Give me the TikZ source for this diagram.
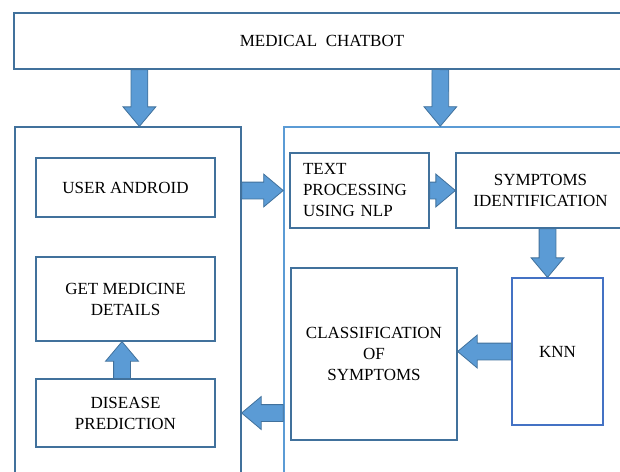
\documentclass[tikz,border=0pt]{standalone}
\usepackage{fontspec}
\setmainfont{Liberation Serif}
\usetikzlibrary{shapes.arrows,calc}

\definecolor{boxline}{HTML}{41719C}
\definecolor{arrowfill}{HTML}{5B9BD5}
\definecolor{outerline}{HTML}{5B9BD5}
\definecolor{knnline}{HTML}{4472C4}

\tikzset{
  block/.style={draw=boxline,line width=1.2pt,align=center,inner sep=0pt,
    font=\fontsize{17}{21}\selectfont},
  fatarrow/.style={single arrow,draw=boxline,fill=arrowfill,line width=0.8pt,
    inner xsep=0pt,inner ysep=8pt,outer sep=0pt,single arrow head extend=8pt,
    single arrow tip angle=80},
}

% block arrow from #1 to #2
\newcommand{\fatarrow}[2]{%
  \path let \p1=(#1), \p2=(#2),
    \n1={atan2(\y2-\y1,\x2-\x1)}, \n2={veclen(\x2-\x1,\y2-\y1)} in
    node [fatarrow,minimum height=\n2,rotate=\n1,anchor=tail] at (\p1) {};}

\begin{document}
\begin{tikzpicture}[x=1pt,y=-1pt]
  \useasboundingbox (0,0) rectangle (620,471);
  \clip (0,0) rectangle (620,471);
  \node (chatbot) at (322,41) [block,minimum width=616,minimum height=56] {MEDICAL\ \ CHATBOT};
  \node (leftbox) at (128,313.5) [block,minimum width=226,minimum height=373] {};
  \node (rightbox) at (462,313.5) [block,draw=outerline,line width=1.5pt,minimum width=356,minimum height=373] {};
  \node (android) at (125.5,187.5) [block,minimum width=179,minimum height=59] {USER ANDROID};
  \node (medicine) at (125.5,299) [block,minimum width=179,minimum height=84] {GET MEDICINE\\DETAILS};
  \node (disease) at (125.5,413) [block,minimum width=179,minimum height=68] {DISEASE\\PREDICTION};
  \node (textproc) at (359.5,190.5) [block,align=left,text width=113,minimum height=75,inner xsep=13] {TEXT\\PROCESSING\\USING NLP};
  \node (symptid) at (540.5,190.5) [block,minimum width=169,minimum height=75] {SYMPTOMS\\IDENTIFICATION};
  \node (classif) at (374,354) [block,minimum width=166,minimum height=172] {CLASSIFICATION\\OF\\SYMPTOMS};
  \node (knn) at (557.5,351.5) [block,draw=knnline,minimum width=91,minimum height=147] {KNN};
  \fatarrow{[xshift=126pt]chatbot.south west}{[xshift=125pt]leftbox.north west}
  \fatarrow{[xshift=427pt]chatbot.south west}{[xshift=157pt]rightbox.north west}
  \fatarrow{leftbox.east |- textproc}{rightbox.west |- textproc}
  \fatarrow{textproc.east}{symptid.west}
  \fatarrow{[xshift=-10pt]knn.north |- symptid.south}{[xshift=-10pt]knn.north}
  \fatarrow{knn.west}{classif.east |- knn.west}
  \fatarrow{rightbox.west |- disease}{leftbox.east |- disease}
  \fatarrow{[xshift=-3.5pt]disease.north}{[xshift=-3.5pt]medicine.south}
\end{tikzpicture}
\end{document}
